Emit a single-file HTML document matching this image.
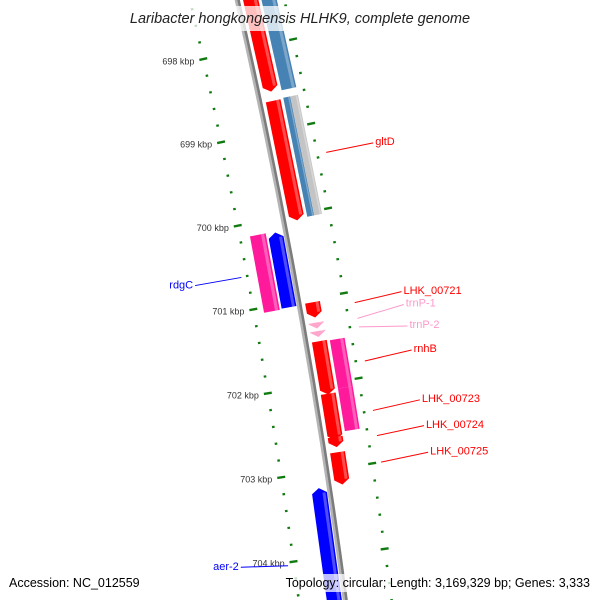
<!DOCTYPE html>
<html><head><meta charset="utf-8"><style>
html,body{margin:0;padding:0;background:#fff;width:600px;height:600px;overflow:hidden;}
svg{display:block;font-family:"Liberation Sans",sans-serif;overflow:hidden;}
</style></head><body>
<svg id="chart" width="600" height="600" viewBox="0 0 600 600" xmlns="http://www.w3.org/2000/svg">
<rect x="0" y="0" width="600" height="600" fill="#fff"/>
<g id="ticks"></g>
<g id="backbone"></g>
<g id="features"></g>
<rect x="116" y="6" width="368" height="25" fill="#fff" fill-opacity="0.75"/>
<text x="300" y="23" text-anchor="middle" font-size="14.5" font-style="italic" fill="#222">Laribacter hongkongensis HLHK9, complete genome</text>
<rect x="0" y="574" width="600" height="18" fill="#fff" fill-opacity="0.75"/>
<g id="labels"></g>
<text x="9" y="587" font-size="12.5" fill="#000">Accession: NC_012559</text>
<text x="590" y="587" text-anchor="end" font-size="12.5" fill="#000">Topology: circular; Length: 3,169,329 bp; Genes: 3,333</text>
</svg>
<script>
// ---- data ----
const featureStarts = [697.0, 697.0, 698.65, 698.64, 698.64, 700.15, 700.16, 701.04, 701.28, 701.38, 701.50, 701.51, 702.08, 702.12, 702.63, 702.81, 703.19];
const featureEnds   = [698.54, 698.55, 700.07, 700.05, 700.05, 701.06, 701.05, 701.22, 701.35, 701.45, 702.13, 702.08, 702.58, 702.67, 702.75, 703.19, 704.9];
const featureStrands = [1, 0, 1, 0, 0, 0, -1, 1, 1, 1, 1, 0, 0, 1, 1, 1, -1];
const featureLanes = ['A', 'B', 'A', 'Bi', 'Bo', 'Lo', 'Li', 'A', 'A', 'A', 'A', 'B', 'B', 'A', 'A', 'A', 'Li'];
const featureKinds = ['cds', 'other', 'cds', 'other', 'gray', 'mag', 'rev', 'cds', 'trna', 'trna', 'cds', 'mag', 'mag', 'cds', 'cds', 'cds', 'rev'];
const featureNames = ['', '', 'gltD', '', '', '', 'rdgC', 'LHK_00721', 'trnP-1', 'trnP-2', 'rnhB', '', '', 'LHK_00723', 'LHK_00724', 'LHK_00725', 'aer-2'];
const labelKbp = [0, 0, 699.36, 0, 0, 0, 700.6, 701.10, 701.25, 701.50, 701.78, 0, 0, 702.36, 702.66, 702.97, 703.98];
const tickKbp = [697, 698, 699, 700, 701, 702, 703, 704, 705];
const tickLabels = ['697 kbp', '698 kbp', '699 kbp', '700 kbp', '701 kbp', '702 kbp', '703 kbp', '704 kbp', '705 kbp'];

// ---- geometry ----
const CX = -6164, CY = 1462, R = 6566;
function ang(k){ return (-10.93 + (k - 700) * 0.748) * Math.PI / 180; }
function P(k, off){ const a = ang(k), r = R + off; return [CX + r * Math.cos(a), CY + r * Math.sin(a)]; }
const lanes = {A:[6,21], B:[24,39], Bi:[24,31], Bo:[31,39], Li:[-18,-3], Lo:[-36,-20]};
const colors = {cds:'#ff0000', other:'#4682b4', gray:'#c4c4c4', mag:'#ff1a9c', rev:'#0000ff', trna:'#ffa6cc'};
const labelColors = {cds:'#ff0000', other:'#4682b4', gray:'#888', mag:'#ff1a9c', rev:'#0000ff', trna:'#ff99cc'};
const NS = 'http://www.w3.org/2000/svg';
function mk(tag, attrs, parent){ const e = document.createElementNS(NS, tag); for (const k in attrs) e.setAttribute(k, attrs[k]); parent.appendChild(e); return e; }
function pts(arr){ return arr.map(p => p[0].toFixed(2) + ',' + p[1].toFixed(2)).join(' '); }

// backbone
const bb = document.getElementById('backbone');
const bl = mk('circle', {cx:CX, cy:CY, r:R - 1.2, fill:'none', stroke:'#b4b4b4', 'stroke-width':2.6}, bb);


const bd = mk('circle', {cx:CX, cy:CY, r:R + 1.3, fill:'none', stroke:'#7c7c7c', 'stroke-width':2.6}, bb);



// ticks
const tg = document.getElementById('ticks');
for (let i = 0; i <= 40; i++) {
  const k = 697 + i * 0.2;
  const major = (i % 5 === 0);
  [-46, 46].forEach(off => {
    const h = major ? 4 : 1.3;
    const a = P(k, off - h), b = P(k, off + h);
    const t = mk('line', {x1:a[0], y1:a[1], x2:b[0], y2:b[1], stroke:'#117a11', 'stroke-width': major ? 2.4 : 2.2}, tg);
    
    
  });
}
tickKbp.forEach((k, i) => {
  const p = P(k, -52);
  const t = mk('text', {x:p[0] - 3, y:p[1] + 4, 'text-anchor':'end', 'font-size':9, fill:'#333'}, tg);
  t.textContent = tickLabels[i];
  
  
});

// features
const fg = document.getElementById('features');
const lg = document.getElementById('labels');
featureStarts.forEach((s, i) => {
  const e = featureEnds[i], st = featureStrands[i];
  const [r1, r2] = lanes[featureLanes[i]];
  const rm = (r1 + r2) / 2;
  const len = e - s;
  const ah = st === 0 ? 0 : Math.min(0.06, len);
  let body, poly;
  if (st === 1) {
    const be = e - ah;
    body = [s, be];
    poly = [P(s, r1), P(be, r1), P(e, rm), P(be, r2), P(s, r2)];
  } else if (st === -1) {
    const bs = s + ah;
    body = [bs, e];
    poly = [P(s, rm), P(bs, r1), P(e, r1), P(e, r2), P(bs, r2)];
  } else {
    body = [s, e];
    poly = [P(s, r1), P(e, r1), P(e, r2), P(s, r2)];
  }
  const kind = featureKinds[i];
  const f = mk('polygon', {points: pts(poly), fill: colors[kind]}, fg);
  
  
  if (body[1] > body[0] + 0.01) {
    const w = r2 - r1;
    const h1 = r1 + w * 0.7, h2 = r1 + w * 0.9;
    const hs = mk('polygon', {points: pts([P(body[0], h1), P(body[1], h1), P(body[1], h2), P(body[0], h2)]), fill:'#fff', 'fill-opacity':0.3}, fg);
    
    
  }
  const name = featureNames[i];
  if (name) {
    const mid = name === 'aer-2' ? 704.04 : (s + e) / 2;
    const lk = labelKbp[i];
    const left = r2 < 0;
    const a = P(mid, left ? -52 : 55), b = P(lk, left ? -99 : 103), tp = P(lk, left ? -101 : 105);
    const ln = mk('line', {x1:a[0], y1:a[1], x2:b[0], y2:b[1], stroke: labelColors[kind], 'stroke-width':1}, lg);
    
    
    const tx = mk('text', {x:tp[0], y:tp[1] + 2.5, 'text-anchor': left ? 'end' : 'start', 'font-size':11, fill: labelColors[kind]}, lg);
    tx.textContent = name;
    
    
  }
});
</script>
</body></html>
